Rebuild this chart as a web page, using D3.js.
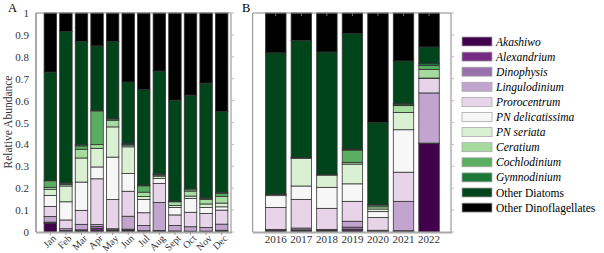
<!DOCTYPE html>
<html>
<head>
<meta charset="utf-8">
<script src="https://cdn.jsdelivr.net/npm/d3@7"></script>
<style>
  body { margin: 0; background: #fff; }
  svg { display: block; font-family: "Liberation Serif", "Times New Roman", serif; }
</style>
</head>
<body>
<svg id="chart" width="604" height="253"></svg>
<script>
// species, bottom of the stack first
var species = ['Akashiwo', 'Alexandrium', 'Dinophysis', 'Lingulodinium', 'Prorocentrum',
  'PN delicatissima', 'PN seriata', 'Ceratium', 'Cochlodinium', 'Gymnodinium',
  'Other Diatoms', 'Other Dinoflagellates'];
var colors = ['#40004b', '#762a83', '#9970ab', '#c2a5cf', '#e7d4e8', '#f7f7f7',
  '#d9f0d3', '#a6dba0', '#5aae61', '#1b7837', '#00441b', '#000000'];
var italicNames = [true, true, true, true, true, true, true, true, true, true, false, false];

var months = ['Jan', 'Feb', 'Mar', 'Apr', 'May', 'Jun', 'Jul', 'Aug', 'Sept', 'Oct', 'Nov', 'Dec'];
var years = ['2016', '2017', '2018', '2019', '2020', '2021', '2022'];
var yTicks = [0, 0.1, 0.2, 0.3, 0.4, 0.5, 0.6, 0.7, 0.8, 0.9, 1];

// one row per month, one value per species (same order as species)
var monthShares = [
  [0.040, 0.002, 0.003, 0.026, 0.046, 0.050, 0.028, 0.009, 0.030, 0.002, 0.494, 0.270],
  [0.002, 0.002, 0.003, 0.008, 0.040, 0.083, 0.072, 0.007, 0.006, 0.002, 0.690, 0.085],
  [0.003, 0.003, 0.004, 0.025, 0.064, 0.129, 0.110, 0.040, 0.015, 0.006, 0.471, 0.130],
  [0.008, 0.008, 0.009, 0.009, 0.209, 0.054, 0.085, 0.017, 0.154, 0.003, 0.294, 0.150],
  [0.004, 0.003, 0.003, 0.005, 0.133, 0.194, 0.138, 0.030, 0.006, 0.004, 0.350, 0.130],
  [0.005, 0.004, 0.004, 0.059, 0.114, 0.081, 0.122, 0.008, 0.004, 0.004, 0.280, 0.315],
  [0.002, 0.002, 0.002, 0.024, 0.058, 0.061, 0.013, 0.020, 0.029, 0.003, 0.436, 0.350],
  [0.002, 0.002, 0.003, 0.128, 0.087, 0.023, 0.010, 0.005, 0.004, 0.002, 0.469, 0.265],
  [0.002, 0.001, 0.002, 0.025, 0.048, 0.034, 0.009, 0.017, 0.002, 0.001, 0.461, 0.398],
  [0.001, 0.001, 0.002, 0.020, 0.066, 0.063, 0.011, 0.023, 0.009, 0.003, 0.426, 0.375],
  [0.001, 0.001, 0.002, 0.017, 0.064, 0.027, 0.016, 0.021, 0.005, 0.002, 0.524, 0.320],
  [0.003, 0.002, 0.003, 0.028, 0.064, 0.015, 0.017, 0.031, 0.013, 0.006, 0.368, 0.450]
];

// one row per year
var yearShares = [
  [0.003, 0.005, 0.002, 0.002, 0.100, 0.054, 0.005, 0.001, 0.001, 0.001, 0.644, 0.182],
  [0.002, 0.004, 0.004, 0.008, 0.131, 0.061, 0.127, 0.001, 0.001, 0.001, 0.535, 0.125],
  [0.002, 0.004, 0.003, 0.003, 0.096, 0.096, 0.056, 0.001, 0.001, 0.000, 0.560, 0.178],
  [0.006, 0.006, 0.010, 0.027, 0.091, 0.080, 0.090, 0.008, 0.056, 0.004, 0.528, 0.094],
  [0.002, 0.003, 0.002, 0.001, 0.058, 0.027, 0.012, 0.010, 0.008, 0.002, 0.375, 0.500],
  [0.002, 0.002, 0.002, 0.134, 0.133, 0.194, 0.079, 0.031, 0.004, 0.006, 0.194, 0.219],
  [0.404, 0.001, 0.001, 0.229, 0.066, 0.001, 0.001, 0.039, 0.018, 0.009, 0.076, 0.155]
];

var svg = d3.select('#chart');
var y = d3.scaleLinear().domain([0, 1]).range([232, 13]);
var stack = d3.stack().keys(d3.range(species.length));
var barWidth = 0.8;

function drawBars(g, shares, x) {
  var layers = stack(shares);
  g.selectAll('g.layer')
    .data(layers)
    .enter().append('g')
    .attr('class', 'layer')
    .attr('fill', function(layer) { return colors[layer.key]; })
    .selectAll('rect')
    .data(function(layer) { return layer; })
    .enter().append('rect')
    .attr('x', function(d, i) { return x(i + 1 - barWidth / 2); })
    .attr('width', function() { return x(barWidth) - x(0); })
    .attr('y', function(d) { return y(d[1]); })
    .attr('height', function(d) { return y(d[0]) - y(d[1]); })
    .attr('stroke', '#333')
    .attr('stroke-width', 0.8);
}

function drawFrame(g, x0, x1, leftColor, rightColor, rightWidth) {
  // box lines like the matlab axes
  g.append('line').attr('x1', x0).attr('x2', x1).attr('y1', 13).attr('y2', 13)
    .attr('stroke', '#888').attr('stroke-width', 1);
  g.append('line').attr('x1', x0).attr('x2', x0).attr('y1', 13).attr('y2', 232)
    .attr('stroke', leftColor).attr('stroke-width', 1);
  g.append('line').attr('x1', x1).attr('x2', x1).attr('y1', 13).attr('y2', 232)
    .attr('stroke', rightColor).attr('stroke-width', rightWidth);
  g.append('line').attr('x1', x0).attr('x2', x1 + 1).attr('y1', 232.5).attr('y2', 232.5)
    .attr('stroke', '#aaa').attr('stroke-width', 2);
  // small marks on the right edge
  g.selectAll('line.rtick')
    .data(yTicks)
    .enter().append('line')
    .attr('class', 'rtick')
    .attr('x1', x1).attr('x2', x1 + 3)
    .attr('y1', function(d) { return y(d); })
    .attr('y2', function(d) { return y(d); })
    .attr('stroke', '#bbb');
}

// ---- panel A, by month
var xA = d3.scaleLinear().domain([0.08, 12.6]).range([36, 231]);
var gA = svg.append('g');
drawBars(gA, monthShares, xA);
drawFrame(gA, 36, 231, '#555', '#c4c4c4', 2);

gA.append('g')
  .attr('transform', 'translate(36,0)')
  .call(d3.axisLeft(y).tickValues(yTicks).tickSize(0).tickPadding(7)
    .tickFormat(function(d) { return String(d); }))
  .call(function(ax) {
    ax.select('.domain').remove();
    ax.selectAll('text').attr('fill', '#333').style('font-size', '11px')
      .style('font-family', '"Liberation Serif", serif');
  });

gA.selectAll('text.month')
  .data(months)
  .enter().append('text')
  .attr('class', 'month')
  .attr('transform', function(d, i) { return 'translate(' + (xA(i + 1) + 4) + ',236.5) rotate(-45)'; })
  .attr('text-anchor', 'end')
  .attr('dy', '0.35em')
  .attr('fill', '#333')
  .style('font-size', '10px')
  .text(function(d) { return d; });

gA.selectAll('line.btick')
  .data(months)
  .enter().append('line')
  .attr('class', 'btick')
  .attr('x1', function(d, i) { return xA(i + 1); })
  .attr('x2', function(d, i) { return xA(i + 1); })
  .attr('y1', 232).attr('y2', 235)
  .attr('stroke', '#999');

svg.append('text')
  .attr('transform', 'translate(12,122) rotate(-90)')
  .attr('text-anchor', 'middle')
  .attr('fill', '#333')
  .style('font-size', '11.5px')
  .text('Relative Abundance');

svg.append('text').attr('x', 8).attr('y', 11.5).style('font-size', '12.5px').text('A');

// ---- panel B, by year
var xB = d3.scaleLinear().domain([0.095, 7.86]).range([252.7, 451]);
var gB = svg.append('g');
drawBars(gB, yearShares, xB);
drawFrame(gB, 252.7, 451, '#888', '#888', 1);

gB.selectAll('line.ttick')
  .data(years)
  .enter().append('line')
  .attr('class', 'ttick')
  .attr('x1', function(d, i) { return xB(i + 1); })
  .attr('x2', function(d, i) { return xB(i + 1); })
  .attr('y1', 13).attr('y2', 16)
  .attr('stroke', '#777');

gB.selectAll('text.year')
  .data(years)
  .enter().append('text')
  .attr('class', 'year')
  .attr('x', function(d, i) { return xB(i + 1); })
  .attr('y', 243)
  .attr('text-anchor', 'middle')
  .attr('fill', '#333')
  .style('font-size', '11px')
  .text(function(d) { return d; });

svg.append('text').attr('x', 242).attr('y', 11.5).style('font-size', '12.5px').text('B');

// ---- legend
var legend = svg.append('g').attr('transform', 'translate(462,41.5)');
var item = legend.selectAll('g.item')
  .data(species)
  .enter().append('g')
  .attr('class', 'item')
  .attr('transform', function(d, i) { return 'translate(0,' + (i * 15.1) + ')'; });
item.append('rect')
  .attr('x', 0).attr('y', -4.5)
  .attr('width', 30).attr('height', 9)
  .attr('fill', function(d, i) { return colors[i]; })
  .attr('stroke', '#aaa').attr('stroke-width', 0.8);
item.append('text')
  .attr('x', 34).attr('dy', '0.35em')
  .style('font-size', '11.5px')
  .style('font-style', function(d, i) { return italicNames[i] ? 'italic' : 'normal'; })
  .text(function(d) { return d; });
</script>
</body>
</html>
